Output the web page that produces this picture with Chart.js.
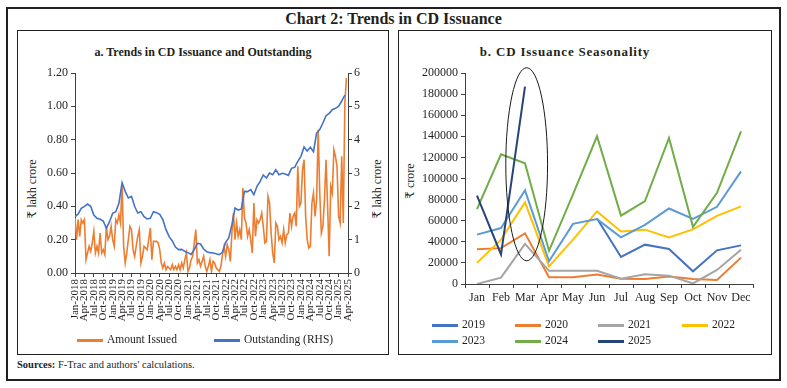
<!DOCTYPE html>
<html>
<head>
<meta charset="utf-8">
<script src="https://cdn.jsdelivr.net/npm/chart.js@4.4.1/dist/chart.umd.min.js"></script>
<style>
  html, body { margin: 0; padding: 0; background: #fff; }
  body { width: 787px; height: 388px; position: relative; overflow: hidden;
         font-family: "Liberation Serif", "DejaVu Serif", serif; color: #231f20; }
  .abs { position: absolute; }
  #outer { left: 6px; top: 7px; width: 775px; height: 374px; border: 2px solid #231f20; box-sizing: border-box; }
  #pA { left: 17px; top: 30px; width: 372px; height: 325px; border: 1.5px solid #231f20; box-sizing: border-box; }
  #pB { left: 398px; top: 30px; width: 374px; height: 325px; border: 1.5px solid #231f20; box-sizing: border-box; }
  #mainTitle { left: 0; top: 10px; width: 787px; text-align: center; font-weight: bold; font-size: 16px; }
  .sub { font-weight: bold; text-align: center; white-space: nowrap; }
  .axt { font-size: 12px; white-space: nowrap; transform: translate(-50%, -50%) rotate(-90deg); }
  .lgLine { height: 2.5px; width: 26px; }
  .lgText { font-size: 11.5px; white-space: nowrap; }
  #src { left: 17px; top: 359px; font-size: 10.5px; }
</style>
</head>
<body>
<div id="outer" class="abs"></div>
<div id="mainTitle" class="abs">Chart 2: Trends in CD Issuance</div>
<div id="pA" class="abs"></div>
<div id="pB" class="abs"></div>
<div class="abs sub" style="left:17px;top:45px;width:372px;font-size:12px;">a. Trends in CD Issuance and Outstanding</div>
<div class="abs sub" style="left:465px;top:44px;width:200px;font-size:13px;letter-spacing:0.8px;">b. CD Issuance Seasonality</div>
<div class="abs axt" style="left:32px;top:189px;">₹ lakh crore</div>
<div class="abs axt" style="left:377px;top:189px;">₹ lakh crore</div>
<div class="abs axt" style="left:410px;top:181px;">₹ crore</div>
<canvas id="cA" class="abs" width="371" height="324" style="left:17px;top:30px;"></canvas>
<canvas id="cB" class="abs" width="373" height="324" style="left:398px;top:30px;"></canvas>
<div id="legA"></div>
<div id="legB"></div>
<div id="src" class="abs"><b>Sources:</b> F-Trac and authors' calculations.</div>
<script>
// ---------- Panel a: data ----------
const quarterLabels = ['Jan-2018','Apr-2018','Jul-2018','Oct-2018','Jan-2019','Apr-2019','Jul-2019','Oct-2019',
  'Jan-2020','Apr-2020','Jul-2020','Oct-2020','Jan-2021','Apr-2021','Jul-2021','Oct-2021',
  'Jan-2022','Apr-2022','Jul-2022','Oct-2022','Jan-2023','Apr-2023','Jul-2023','Oct-2023',
  'Jan-2024','Apr-2024','Jul-2024','Oct-2024','Jan-2025','Apr-2025'];
const seriesA = ['Amount Issued', 'Outstanding (RHS)'];
// Amount issued (₹ lakh crore), fortnightly from Jan 2018
const amountIssued = [
  0.33,0.20, 0.32,0.22, 0.32,0.30, 0.32,0.08, 0.12,0.16, 0.13,0.18, 0.25,0.12, 0.16,0.12, 0.24,0.12, 0.14,0.11,
  0.28,0.20, 0.22,0.28, 0.20,0.16, 0.32,0.30, 0.35,0.30, 0.53,0.16, 0.06,0.12, 0.20,0.28, 0.26,0.14, 0.10,0.16,
  0.22,0.26, 0.06,0.10, 0.16,0.15, 0.14,0.20, 0.27,0.08, 0.19,0.19, 0.19,0.18, 0.14,0.06, 0.03,0.06, 0.02,0.04,
  0.03,0.02, 0.05,0.02, 0.04,0.02, 0.05,0.02, 0.06,0.03, 0.08,0.12, 0.01,0.03, 0.08,0.10, 0.18,0.26, 0.06,0.08,
  0.04,0.07, 0.10,0.04, 0.01,0.04, 0.08,0.01, 0.07,0.06, 0.03,0.02, 0.01,0.04, 0.11,0.16, 0.10,0.17, 0.14,0.07,
  0.24,0.36, 0.20,0.30, 0.22,0.26, 0.20,0.51, 0.33,0.30, 0.22,0.26, 0.20,0.12, 0.42,0.22, 0.32,0.30, 0.32,0.36,
  0.28,0.18, 0.19,0.46, 0.42,0.24, 0.12,0.06, 0.30,0.28, 0.20,0.22, 0.18,0.26, 0.18,0.23, 0.24,0.36, 0.28,0.34,
  0.36,0.28, 0.64,0.40, 0.42,0.62, 0.68,0.34, 0.20,0.15, 0.16,0.42, 0.48,0.34, 0.44,0.86, 0.48,0.24, 0.28,0.44,
  0.68,0.40, 0.10,0.52, 0.48,0.74, 0.70,0.64, 0.34,0.30, 0.70,0.30, 1.02,1.17
];
// Outstanding (₹ lakh crore, RHS), monthly from Jan 2018
const outstanding = [
  1.69,1.77,1.94,2.00,2.07,2.00,1.74,1.64,1.61,1.56,
  1.34,1.54,1.79,1.84,2.09,2.71,2.45,2.25,2.30,2.00,
  1.80,1.84,1.69,1.62,1.64,1.84,1.81,1.76,1.60,1.30,
  1.09,0.96,0.78,0.70,0.71,0.65,0.61,0.56,0.70,0.89,
  0.87,0.72,0.64,0.61,0.60,0.58,0.55,0.62,0.92,1.05,
  1.45,1.95,1.89,1.92,2.45,2.44,2.50,2.35,2.60,2.75,
  2.94,2.85,3.00,2.95,3.10,2.95,2.99,2.97,2.93,3.14,
  3.17,3.35,3.50,3.78,3.66,3.77,3.64,4.20,4.30,4.50,
  4.72,4.79,4.90,4.94,5.00,5.16,5.34
];
const colorsA = ['#ED7D31', '#4472C4'];

// ---------- Panel b: data ----------
const months = ['Jan','Feb','Mar','Apr','May','Jun','Jul','Aug','Sep','Oct','Nov','Dec'];
const years = ['2019','2020','2021','2022','2023','2024','2025'];
const y2019 = [null,null,null,null,null,62000,25600,37300,33200,12000,31900,36600];
const y2020 = [33000,34000,48000,6500,6500,9000,5000,4700,7000,4700,3800,25000];
const y2021 = [0,6000,38000,12500,12500,12500,5000,9200,7900,500,13300,32500];
const y2022 = [20000,42000,77400,16700,42000,68800,49800,51500,44100,51700,64600,73600];
const y2023 = [46800,53000,88800,21500,57000,61500,44300,56100,71600,61800,73200,106800];
const y2024 = [71000,123000,114500,31500,85000,140000,64800,78600,138500,54200,86500,144700];
const y2025 = [83700,28000,187000];
const seriesB = [y2019,y2020,y2021,y2022,y2023,y2024,y2025];
const colorsB = ['#4472C4','#ED7D31','#A5A5A5','#FFC000','#5B9BD5','#70AD47','#264478'];

Chart.defaults.font.family = '"Liberation Serif", "DejaVu Serif", serif';
Chart.defaults.font.size = 12;
Chart.defaults.color = '#231f20';
const axisCol = '#404040';
const gridOpts = { display: true, drawOnChartArea: false, drawTicks: true, tickLength: 4, color: axisCol, lineWidth: 1 };
const borderOpts = { display: true, color: axisCol, width: 1 };

// ---------- Chart a ----------
new Chart(document.getElementById('cA'), {
  type: 'line',
  data: {
    datasets: [
      { label: seriesA[0], data: amountIssued.map((v, i) => ({ x: i / 2, y: v })),
        borderColor: colorsA[0], backgroundColor: colorsA[0], borderWidth: 1.6, pointRadius: 0,
        tension: 0, yAxisID: 'y', order: 1 },
      { label: seriesA[1], data: outstanding.map((v, i) => ({ x: i, y: v })),
        borderColor: colorsA[1], backgroundColor: colorsA[1], borderWidth: 1.6, pointRadius: 0,
        tension: 0, yAxisID: 'y1', order: 0 }
    ]
  },
  options: {
    responsive: false, animation: false, devicePixelRatio: 1,
    layout: { padding: { top: 43, bottom: 21, left: 0, right: 0 } },
    plugins: { legend: { display: false }, tooltip: { enabled: false } },
    scales: {
      x: { type: 'linear', min: 0, max: 87,
           grid: gridOpts, border: borderOpts,
           ticks: { stepSize: 3, autoSkip: false, minRotation: 90, maxRotation: 90, padding: 2,
                    font: { size: 11 }, callback: v => quarterLabels[Math.round(v / 3)] },
           afterFit: s => { s.height = 60; } },
      y: { type: 'linear', position: 'left', min: 0, max: 1.2,
           grid: gridOpts, border: borderOpts,
           ticks: { stepSize: 0.2, padding: 3, callback: v => v.toFixed(2) },
           afterFit: s => { s.width = 58; } },
      y1: { type: 'linear', position: 'right', min: 0, max: 6,
            grid: gridOpts, border: borderOpts,
            ticks: { stepSize: 1, padding: 2 },
            afterFit: s => { s.width = 40; } }
    }
  }
});

// ---------- Chart b ----------
const ellipsePlugin = {
  id: 'ellipse',
  afterDatasetsDraw(chart) {
    const xs = chart.scales.x, ys = chart.scales.y, ctx = chart.ctx;
    const w = xs.getPixelForValue(1) - xs.getPixelForValue(0);
    const cx = xs.getPixelForValue(2) + 0.07 * w;
    const top = ys.getPixelForValue(205000), bot = ys.getPixelForValue(22000);
    ctx.save();
    ctx.beginPath();
    ctx.ellipse(cx, (top + bot) / 2, 0.87 * w, (bot - top) / 2, 0, 0, Math.PI * 2);
    ctx.strokeStyle = '#1a1a1a';
    ctx.lineWidth = 1;
    ctx.stroke();
    ctx.restore();
  }
};
new Chart(document.getElementById('cB'), {
  type: 'line',
  data: {
    labels: months,
    datasets: seriesB.map((d, i) => ({
      label: years[i], data: d, borderColor: colorsB[i], backgroundColor: colorsB[i],
      borderWidth: 2, pointRadius: 0, tension: 0, spanGaps: false,
      order: i === 6 ? 0 : 7 - i
    }))
  },
  options: {
    responsive: false, animation: false, devicePixelRatio: 1,
    layout: { padding: { top: 43, bottom: 50, left: 0, right: 18 } },
    plugins: { legend: { display: false }, tooltip: { enabled: false } },
    scales: {
      x: { type: 'category', offset: true,
           grid: Object.assign({}, gridOpts, { offset: true }), border: borderOpts,
           ticks: { padding: 3, maxRotation: 0, autoSkip: false },
           afterFit: s => { s.height = 20; } },
      y: { min: 0, max: 200000,
           grid: gridOpts, border: borderOpts,
           ticks: { stepSize: 20000, padding: 3, callback: v => String(v) },
           afterFit: s => { s.width = 67; } }
    }
  },
  plugins: [ellipsePlugin]
});

// ---------- HTML legends ----------
function addLegend(containerId, names, colors, positions) {
  const c = document.getElementById(containerId);
  names.forEach((n, i) => {
    const p = positions[i];
    const ln = document.createElement('div');
    ln.className = 'abs lgLine';
    ln.style.left = p[0] + 'px'; ln.style.top = (p[1] - 1) + 'px'; ln.style.background = colors[i];
    c.appendChild(ln);
    const t = document.createElement('div');
    t.className = 'abs lgText';
    t.style.left = (p[0] + 30) + 'px'; t.style.top = (p[1] - 7) + 'px';
    t.textContent = n;
    c.appendChild(t);
  });
}
addLegend('legA', seriesA, colorsA, [[77, 340], [214, 340]]);
addLegend('legB', years, colorsB, [[432,325],[515,325],[598,325],[682,325],[432,341],[515,341],[598,341]]);
</script>
</body>
</html>
